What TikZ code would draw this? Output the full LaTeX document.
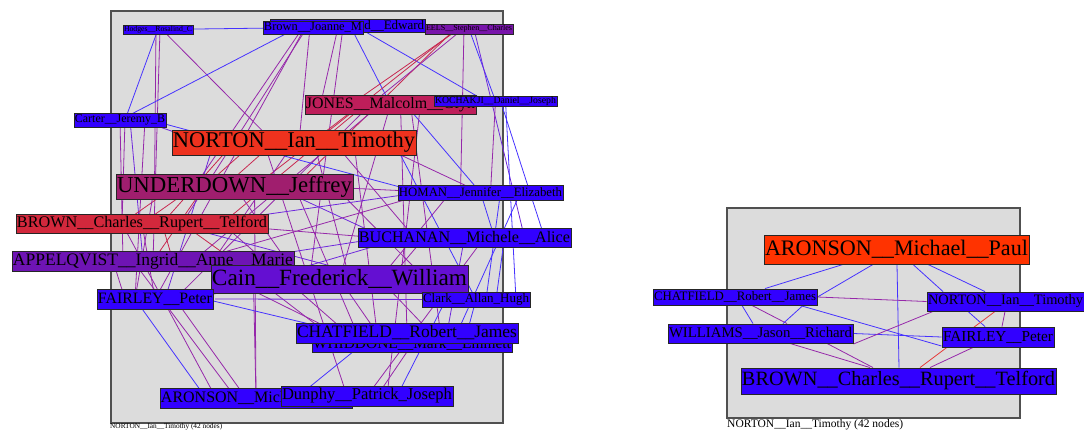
\documentclass[tikz,border=0pt]{standalone}
\usepackage{fontspec}
\setmainfont{Liberation Serif}
\usepackage{graphicx}
\pgfdeclarelayer{framelayer}
\pgfdeclarelayer{edgelayer}
\pgfsetlayers{framelayer,edgelayer,main}
\definecolor{cblue}{RGB}{50,0,255}
\definecolor{cnor}{RGB}{238,50,30}
\definecolor{cund}{RGB}{160,30,110}
\definecolor{cjon}{RGB}{190,30,90}
\definecolor{cbrc}{RGB}{210,40,60}
\definecolor{capp}{RGB}{110,20,180}
\definecolor{ccai}{RGB}{100,15,210}
\definecolor{ceel}{RGB}{120,20,170}
\definecolor{caro}{RGB}{255,51,0}
\definecolor{framefill}{RGB}{220,220,220}
\definecolor{frameline}{RGB}{80,80,80}
\definecolor{lblue}{RGB}{70,50,255}
\definecolor{lpurple}{RGB}{150,40,170}
\definecolor{lviolet}{RGB}{110,40,220}
\definecolor{lmag}{RGB}{200,40,80}
\definecolor{lred}{RGB}{230,60,60}
\tikzset{
  nbox/.style={draw=black!85,line width=0.9,inner sep=0pt,text=black},
  panel/.style={fill=framefill,draw=frameline,line width=1.5},
  eb/.style={lblue,line width=0.8},
  ep/.style={lpurple,line width=0.8},
  ev/.style={lviolet,line width=0.8},
  er/.style={lmag,line width=0.8},
  ed/.style={lred,line width=0.8},
  caption/.style={inner sep=0pt,anchor=north west,text=black}
}
\newcommand\mkbox[7]{\node[nbox,fill=#6,minimum width=#4,minimum height=#5] (#1) at (#2,#3) {\resizebox{\dimexpr #4pt-2pt\relax}{!}{#7}};}
\begin{document}
\begin{tikzpicture}[x=1pt,y=-1pt]
\useasboundingbox (0,0) rectangle (1084,429);
\begin{pgfonlayer}{framelayer}
\draw[panel] (111,11) rectangle (503,423);
\draw[panel] (727,208) rectangle (1020,418);
\end{pgfonlayer}
% ---------- left panel nodes ----------
\node[nbox,fill=cblue,minimum width=155,minimum height=13] (edw) at (347.5,25.5) {};
\node[inner sep=1pt,anchor=east,text=black] (edwt) at (edw.east) {\resizebox{60pt}{!}{d\_\_Edward}};
\mkbox{hod}{158}{29.5}{70}{9}{cblue}{Hodges\_\_Rosalind\_C}
\mkbox{bjo}{313}{27.5}{100}{13}{cblue}{Brown\_\_Joanne\_M}
\mkbox{eel}{469}{29}{88}{10}{ceel}{EELS\_\_Stephen\_\_Charles}
\mkbox{jon}{390.5}{104.5}{171}{19}{cjon}{JONES\_\_Malcolm\_\_Glyn}
\mkbox{koc}{495.5}{101}{123}{10}{cblue}{KOCHAKJI\_\_Daniel\_\_Joseph}
\mkbox{car}{120}{120}{92}{14}{cblue}{Carter\_\_Jeremy\_B}
\mkbox{nor}{294}{142.5}{244}{25}{cnor}{NORTON\_\_Ian\_\_Timothy}
\mkbox{und}{234.5}{186.5}{237}{25}{cund}{UNDERDOWN\_\_Jeffrey}
\mkbox{hom}{480.5}{192.5}{165}{15}{cblue}{HOMAN\_\_Jennifer\_\_Elizabeth}
\mkbox{brc}{142}{223.5}{252}{19}{cbrc}{BROWN\_\_Charles\_\_Rupert\_\_Telford}
\mkbox{buc}{464.5}{237.5}{213}{19}{cblue}{BUCHANAN\_\_Michele\_\_Alice}
\mkbox{app}{153}{261}{282}{20}{capp}{APPELQVIST\_\_Ingrid\_\_Anne\_\_Marie}
\mkbox{cai}{339.5}{279}{257}{28}{ccai}{Cain\_\_Frederick\_\_William}
\mkbox{fai}{155}{299}{116}{20}{cblue}{FAIRLEY\_\_Peter}
\mkbox{cla}{476}{299.5}{108}{15}{cblue}{Clark\_\_Allan\_Hugh}
\mkbox{whi}{412}{344.5}{200}{15}{cblue}{WHIDDONE\_\_Mark\_\_Emmett}
\mkbox{cha}{407}{333}{222}{20}{cblue}{CHATFIELD\_\_Robert\_\_James}
\mkbox{aro}{256}{398}{192}{20}{cblue}{ARONSON\_\_Michael\_\_Paul}
\mkbox{dun}{367}{396}{172}{20}{cblue}{Dunphy\_\_Patrick\_Joseph}
\node[caption] (lcap) at (110,423.5) {\resizebox{112pt}{!}{NORTON\_\_Ian\_\_Timothy (42 nodes)}};
% ---------- right panel nodes ----------
\mkbox{raro}{896.5}{249.5}{265}{29}{caro}{ARONSON\_\_Michael\_\_Paul}
\mkbox{rcha}{735}{297}{164}{16}{cblue}{CHATFIELD\_\_Robert\_\_James}
\mkbox{rnor}{1005.5}{301.5}{157}{19}{cblue}{NORTON\_\_Ian\_\_Timothy}
\mkbox{rwil}{760.5}{333.5}{185}{19}{cblue}{WILLIAMS\_\_Jason\_\_Richard}
\mkbox{rfai}{998}{337}{112}{20}{cblue}{FAIRLEY\_\_Peter}
\mkbox{rbro}{898.5}{381}{315}{26}{cblue}{BROWN\_\_Charles\_\_Rupert\_\_Telford}
\node[caption] (rcap) at (727,419.5) {\resizebox{176pt}{!}{NORTON\_\_Ian\_\_Timothy (42 nodes)}};
% ---------- edges ----------
\begin{pgfonlayer}{edgelayer}
\foreach \a/\ax/\b/\bx/\c in {
 hod/0/car/5/eb, hod/-2/und/-80/ep, hod/2/app/0/ep, hod/4/nor/-20/ep, hod/0/bjo/0/eb,
 bjo/-15/car/0/eb, bjo/-10/und/-40/ep, bjo/-6/brc/40/ep, bjo/-3/nor/5/ep,
 bjo/25/jon/-70/ep, bjo/30/cai/-30/ep, bjo/38/jon/0/eb, bjo/45/koc/-10/eb, bjo/-8/fai/0/ep,
 eel/-10/jon/-40/er, eel/-12/nor/20/er, eel/-14/und/60/er, eel/-6/jon/-20/ep,
 eel/-5/hom/-20/ep, eel/0/koc/0/eb, eel/5/buc/60/ev,
 koc/0/hom/10/ep, koc/5/buc/80/eb, koc/10/cla/40/eb,
 jon/-30/und/20/er, jon/-25/brc/80/er, jon/-10/app/40/ep, jon/0/cai/0/ep, jon/10/cha/0/ep,
 jon/15/hom/0/eb, jon/-20/fai/20/ep, jon/20/whi/30/ep, jon/30/dun/20/ep,
 car/0/app/-30/ep, car/5/brc/-20/ep, car/20/nor/-90/ev, car/30/hom/-60/eb,
 car/25/fai/-20/ep, car/10/app/-10/ev,
 nor/-40/und/-30/er, nor/-20/und/-10/er, nor/-60/brc/20/er, nor/0/app/60/ep,
 nor/40/buc/-50/ep, nor/80/hom/0/ep, nor/60/cha/-30/ep, nor/20/cai/10/ep,
 nor/-80/fai/10/ev, nor/100/cla/0/eb, nor/-30/dun/-20/ep,
 und/-60/brc/-20/er, und/-40/brc/0/er, und/-30/app/0/er, und/0/cai/-40/ep,
 und/40/buc/-80/ev, und/80/hom/-40/ep, und/60/cha/-50/ep, und/-80/fai/-20/ep,
 und/100/cla/-30/ep, und/20/aro/0/ep,
 hom/-60/brc/60/ev, hom/-50/app/40/ep, hom/0/buc/30/eb, hom/20/cla/10/eb,
 hom/-30/cai/40/ep, hom/40/cha/50/eb,
 brc/20/app/20/er, brc/40/cai/-80/er, brc/60/buc/-90/ep, brc/80/cha/-60/ep,
 brc/0/fai/0/ep, brc/-20/aro/-40/ep, brc/30/cla/-20/ev,
 buc/-80/app/80/ev, buc/-40/cai/50/ep, buc/0/cha/40/ev, buc/40/cla/20/eb,
 buc/-60/fai/40/ev, buc/20/dun/0/ep,
 app/80/cha/-80/ep, app/-40/fai/-30/ep, app/40/whi/-50/ep, app/-20/aro/-20/ep, app/100/aro/0/ep,
 cai/-40/fai/30/ev, cai/0/cha/-30/ep, cai/80/cla/0/eb, cai/40/whi/30/ep,
 fai/-20/aro/-50/eb, fai/20/aro/-10/ep, fai/50/cha/-60/eb, fai/60/cla/-30/ev,
 cla/0/cha/60/eb, cla/-30/dun/30/eb, whi/0/dun/10/ep, whi/-50/aro/40/eb}
 {\draw[\c] ([xshift=\ax]\a.center) -- ([xshift=\bx]\b.center);}
% right panel edges
\draw[eb] ([xshift=-53.5]raro.south) -- ([xshift=30]rcha.north);
\draw[eb] ([xshift=-23.5]raro.south) -- (rcha.east);
\draw[eb] ([xshift=0.5]raro.south) -- ([xshift=0.5]rbro.north);
\draw[eb] ([xshift=16.5]raro.south) -- ([xshift=-62.5]rnor.north);
\draw[eb] ([xshift=31.5]raro.south) -- ([xshift=-20.5]rnor.north);
\draw[ep] (rcha.east) -- (rnor.west);
\draw[eb] ([xshift=7]rcha.south) -- ([xshift=-7.5]rwil.north);
\draw[ep] ([xshift=17]rcha.south) -- ([xshift=26.5]rwil.north);
\draw[eb] ([xshift=68]rcha.south) -- ([xshift=22.5]rwil.north);
\draw[eb] ([xshift=65]rcha.south) -- ([yshift=-9]rfai.west);
\draw[eb] (rwil.east) -- (rfai.west);
\draw[ep] ([yshift=-10.5]rwil.east) -- ([xshift=-72.5]rnor.south);
\draw[ep] ([xshift=29.5]rwil.south) -- ([xshift=-28.5]rbro.north);
\draw[ep] ([xshift=66.5]rwil.south) -- ([xshift=-25.5]rbro.north);
\draw[eb] ([xshift=-37.5]rnor.south) -- ([xshift=-13]rfai.north);
\draw[ed] ([xshift=-10.5]rnor.south) -- ([xshift=21.5]rbro.north);
\draw[ep] ([xshift=-0.5]rnor.south) -- ([xshift=4]rfai.north);
\draw[ep] ([xshift=-25]rfai.south) -- ([xshift=31.5]rbro.north);
\end{pgfonlayer}
\end{tikzpicture}
\end{document}
